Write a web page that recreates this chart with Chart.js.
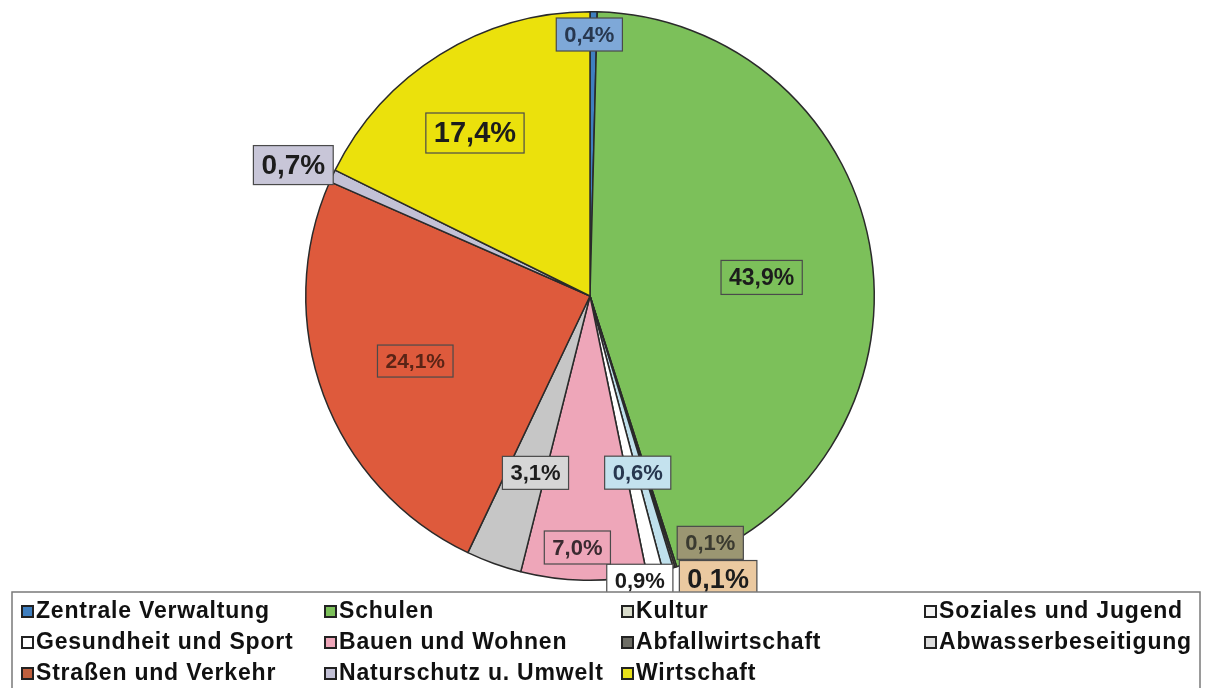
<!DOCTYPE html>
<html>
<head>
<meta charset="utf-8">
<script src="https://cdn.jsdelivr.net/npm/chart.js@4.4.0/dist/chart.umd.min.js"></script>
<style>
  html, body { margin: 0; padding: 0; background: #fff; }
  #wrap { width: 1205px; height: 688px; position: relative; }
</style>
</head>
<body>
<div id="wrap"><canvas id="pieChart" width="1205" height="688"></canvas></div>
<script>
// categories in legend order
const categories = ['Zentrale Verwaltung', 'Schulen', 'Kultur', 'Soziales und Jugend',
    'Gesundheit und Sport', 'Bauen und Wohnen', 'Abfallwirtschaft', 'Abwasserbeseitigung',
    'Straßen und Verkehr', 'Naturschutz u. Umwelt', 'Wirtschaft'];
// share in percent, same order as categories
const shares = [0.4, 43.9, 0.1, 0.6, 0.9, 7.0, 0.1, 3.1, 24.1, 0.7, 17.4];
// order of the slices clockwise from 12 o'clock (indices into categories)
const sliceOrder = [0, 1, 6, 2, 3, 4, 5, 7, 8, 9, 10];

const sliceColors = ['#3f7fc0', '#7cc05a', '#ebc9a0', '#bfe0ec', '#ffffff', '#eea6b9',
    '#8c8a6c', '#c6c6c6', '#de5a3c', '#c3c1d6', '#ebe10c'];
const markerColors = ['#3f7fc0', '#7cc05a', '#d9dccb', '#f4f4f4', '#ffffff', '#eea6b9',
    '#6e6e66', '#dcdcdc', '#c0603e', '#c3c1d6', '#e8e01a'];
const boxColors = ['#7ea8d8', '#7cc05a', '#ebc9a0', '#c4e2ee', '#ffffff', '#eea6b9',
    '#9b9672', '#d6d6d6', '#de5a3c', '#c8c6d8', '#ebe10c'];
const textColors = ['#27374f', '#1c1c1c', '#1c1c1c', '#27374f', '#1c1c1c', '#3a2a30',
    '#3a3a30', '#1c1c1c', '#5a2416', '#1c1c1c', '#1c1c1c'];
// label placement: fraction of radius at slice middle, then a small pixel nudge
const labelRadius = [0.92, 0.61, 0.97, 1.0, 0.65, 1.0, 0.885, 0.65, 0.656, 1.14, 0.70];
const labelNudge = [[-4, 0], [0, 6], [37, -16], [44, 12], [-3, -1], [-15, 8], [-7, 0], [8, 3], [0, 0], [-3, 6], [-10, 6]];
const labelFont = [22, 23, 22, 27, 22, 22, 22, 22, 21, 28, 29];

const pieLabels = sliceOrder.map(i => categories[i]);
const pieValues = sliceOrder.map(i => shares[i]);

function fmt(v) {
    return v.toFixed(1).replace('.', ',') + '%';
}

const sliceLabels = {
    id: 'sliceLabels',
    afterDatasetsDraw(chart) {
        const ctx = chart.ctx;
        const meta = chart.getDatasetMeta(0);
        meta.data.forEach((arc, k) => {
            const i = sliceOrder[k];
            const p = arc.getProps(['x', 'y', 'startAngle', 'endAngle', 'outerRadius'], true);
            const mid = (p.startAngle + p.endAngle) / 2;
            const r = p.outerRadius * labelRadius[k];
            const x = p.x + Math.cos(mid) * r + labelNudge[k][0];
            const y = p.y + Math.sin(mid) * r + labelNudge[k][1];
            const txt = fmt(shares[i]);
            ctx.save();
            ctx.font = 'bold ' + labelFont[k] + 'px "Liberation Sans", Arial, sans-serif';
            const w = ctx.measureText(txt).width + 16;
            const h = labelFont[k] + 11;
            ctx.fillStyle = boxColors[i];
            ctx.fillRect(x - w / 2, y - h / 2, w, h);
            ctx.strokeStyle = '#4a4a4a';
            ctx.lineWidth = 1.2;
            ctx.strokeRect(x - w / 2, y - h / 2, w, h);
            ctx.fillStyle = textColors[i];
            ctx.textAlign = 'center';
            ctx.textBaseline = 'middle';
            ctx.fillText(txt, x, y + 1);
            ctx.restore();
        });
    }
};

const boxLegend = {
    id: 'boxLegend',
    afterDraw(chart) {
        const ctx = chart.ctx;
        ctx.save();
        ctx.fillStyle = '#ffffff';
        ctx.fillRect(12, 592, 1190, 100);
        ctx.strokeStyle = '#7a7a7a';
        ctx.lineWidth = 1.5;
        ctx.strokeRect(12, 592, 1188, 100);
        const colX = [22, 325, 622, 925];
        const rowY = [611, 642, 673];
        ctx.font = 'bold 23px "Liberation Sans", Arial, sans-serif';
        ctx.letterSpacing = '0.8px';
        ctx.textBaseline = 'middle';
        categories.forEach((name, i) => {
            const cx = colX[i % 4];
            const cy = rowY[Math.floor(i / 4)];
            ctx.fillStyle = markerColors[i];
            ctx.fillRect(cx, cy - 5, 11, 11);
            ctx.strokeStyle = '#222';
            ctx.lineWidth = 2;
            ctx.strokeRect(cx, cy - 5, 11, 11);
            ctx.fillStyle = '#111';
            ctx.fillText(name, cx + 14, cy + 1);
        });
        ctx.restore();
    }
};

new Chart(document.getElementById('pieChart').getContext('2d'), {
    type: 'pie',
    data: {
        labels: pieLabels,
        datasets: [{
            data: pieValues,
            backgroundColor: sliceOrder.map(i => sliceColors[i]),
            borderColor: '#2a2a2a',
            borderWidth: 1.5
        }]
    },
    options: {
        responsive: false,
        animation: false,
        layout: { padding: { left: 305, right: 330, top: 11, bottom: 107 } },
        plugins: { legend: { display: false }, tooltip: { enabled: false } }
    },
    plugins: [sliceLabels, boxLegend]
});
</script>
</body>
</html>
